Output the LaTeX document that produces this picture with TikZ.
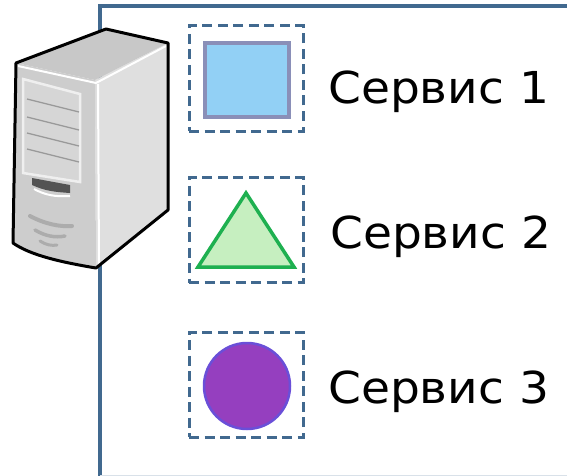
\documentclass[tikz,border=0pt]{standalone}
\usepackage{fontspec}
\setmainfont{DejaVu Sans}[FakeStretch=1.07]

\definecolor{frameblue}{HTML}{41698F}
\definecolor{sqfill}{HTML}{92D0F5}
\definecolor{sqline}{HTML}{8A8FB8}
\definecolor{trifill}{HTML}{C6EFC0}
\definecolor{triline}{HTML}{1EB050}
\definecolor{circfill}{HTML}{953FBF}
\definecolor{circline}{HTML}{6A4FD8}
\definecolor{srvtop}{HTML}{C8C8C8}
\definecolor{srvfront}{HTML}{CDCDCD}
\definecolor{srvside}{HTML}{DFDFDF}
\definecolor{srvpanel}{HTML}{D6D6D6}

\tikzset{
  svcbox/.style={draw=frameblue, line width=3pt, dash pattern=on 10pt off 5.5pt,
    minimum width=114pt, minimum height=105pt, inner sep=0pt},
  svcname/.style={anchor=base west, inner sep=0pt, font=\fontsize{44}{48}\selectfont},
}

\begin{document}
\begin{tikzpicture}[x=1pt,y=-1pt]
  \useasboundingbox (0,0) rectangle (567,476);

  % host frame
  \draw[frameblue, line width=3.5pt] (568,6) -- (100,6) -- (100,477);
  \draw[frameblue!20, line width=1.2pt] (100,475.5) -- (567,475.5);

  % services
  \node[svcbox] (box1) at (246,78.5) {};
  \node[svcbox] (box2) at (246,230) {};
  \node[svcbox] (box3) at (246,384.5) {};

  \node[draw=sqline, fill=sqfill, line width=3.5pt, minimum width=84pt, minimum height=74pt] (sq) at (247,80) {};
  \draw[triline, fill=trifill, line width=3.5pt] (246,193) -- (294,267) -- (198,267) -- cycle;
  \node[circle, draw=circline, fill=circfill, line width=2.5pt, minimum size=86pt] (circ) at (247,386) {};

  \node[svcname] (name1) at (328,104) {Сервис 1};
  \node[svcname] (name2) at (330,248.5) {Сервис 2};
  \node[svcname] (name3) at (328,403) {Сервис 3};

  % server box
  \fill[srvside] (95,80) -- (168,43) -- (168,210) -- (96,268) -- cycle;
  \fill[srvfront] (16,63) -- (95,80) -- (96,268) .. controls (60,262) and (30,255) .. (13,243) -- cycle;
  \fill[srvtop] (16,63) -- (106,29) -- (168,43) -- (95,80) -- cycle;
  \draw[white, line width=2pt] (18,66) -- (96,83) -- (166,46);
  \draw[white, line width=2pt] (98,84) -- (99,265);
  \draw[white!60!srvpanel, fill=srvpanel, line width=2.5pt] (23,79) -- (80,94) -- (80,182) -- (23,173) -- cycle;
  \foreach \y in {99,117,133,149}
    \draw[gray!80, line width=1.3pt] (27,\y) -- (79,\y+13);
  \fill[darkgray!90] (32,178) -- (70,185) -- (70,193) .. controls (55,192) and (45,191) .. (32,185) -- cycle;
  \draw[white, line width=2pt] (34,189) .. controls (45,195) and (55,197) .. (70,196);
  \draw[gray!65, line width=4pt, line cap=round] (30,216) .. controls (45,224) and (60,227) .. (72,226);
  \draw[gray!65, line width=3.5pt, line cap=round] (35,230) .. controls (45,236) and (55,238) .. (65,236);
  \draw[gray!65, line width=3pt, line cap=round] (40,241) .. controls (46,245) and (52,246) .. (57,245);
  \draw[black, line width=3pt, line join=round] (16,63) -- (106,29) -- (168,43) -- (168,210) -- (96,268)
    .. controls (60,262) and (30,255) .. (13,243) -- cycle;
\end{tikzpicture}
\end{document}
